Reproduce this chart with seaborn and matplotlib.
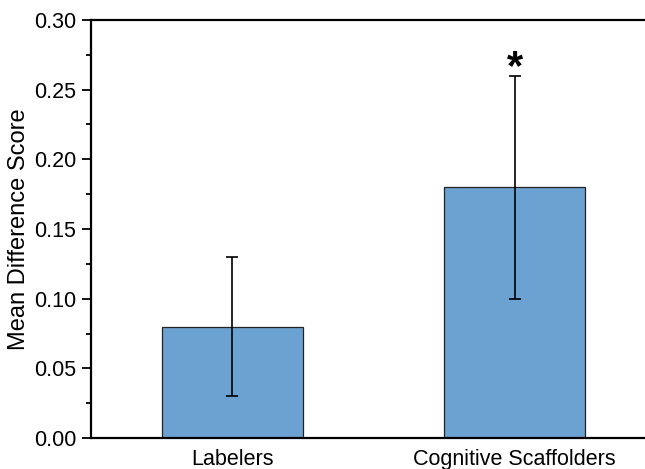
import pandas as pd
import seaborn as sns
import matplotlib.pyplot as plt
from matplotlib.ticker import MultipleLocator

groups = ["Labelers", "Cognitive Scaffolders"]
means = [0.08, 0.18]
lower = [0.03, 0.10]
upper = [0.13, 0.26]
marks = ["", "*"]

df = pd.DataFrame({"group": groups, "mean": means})

sns.set_style("ticks")
plt.rcParams["font.family"] = ["Liberation Sans", "DejaVu Sans"]
plt.rcParams["text.color"] = "black"
plt.rcParams["axes.labelcolor"] = "black"
plt.rcParams["xtick.color"] = "black"
plt.rcParams["ytick.color"] = "black"

fig = plt.figure(figsize=(6.45, 4.69), dpi=100)
ax = fig.add_axes([91 / 645, 31 / 469, 565 / 645, 418 / 469])

sns.barplot(data=df, x="group", y="mean", color="#6ca2d1", saturation=1,
            width=0.5, edgecolor="#222222", linewidth=0.9, errorbar=None, ax=ax)

yerr = [[m - lo for m, lo in zip(means, lower)], [hi - m for m, hi in zip(means, upper)]]
ax.errorbar(range(len(groups)), means, yerr=yerr, fmt="none", ecolor="black",
            elinewidth=1.2, capsize=4.5, capthick=1.2)

for i, (hi, mk) in enumerate(zip(upper, marks)):
    if mk:
        ax.text(i, hi - 0.009, mk, ha="center", va="bottom", fontsize=30, fontweight="bold")

ax.set_xlim(-0.5, 1.5)
ax.set_ylim(0, 0.30)
ax.yaxis.set_major_locator(MultipleLocator(0.05))
ax.yaxis.set_minor_locator(MultipleLocator(0.025))
ax.yaxis.set_major_formatter(plt.FormatStrFormatter("%.2f"))
ax.set_xlabel("")
ax.set_ylabel("Mean Difference Score", fontsize=17, labelpad=3)
ax.tick_params(axis="y", which="major", length=6.5, width=1.3, labelsize=15.5, pad=4)
ax.tick_params(axis="y", which="minor", length=3.5, width=1.3)
ax.tick_params(axis="x", length=0, labelsize=15.5, pad=8)
for s in ax.spines.values():
    s.set_linewidth(1.6)
    s.set_color("black")

fig.savefig("out.png", dpi=100)
